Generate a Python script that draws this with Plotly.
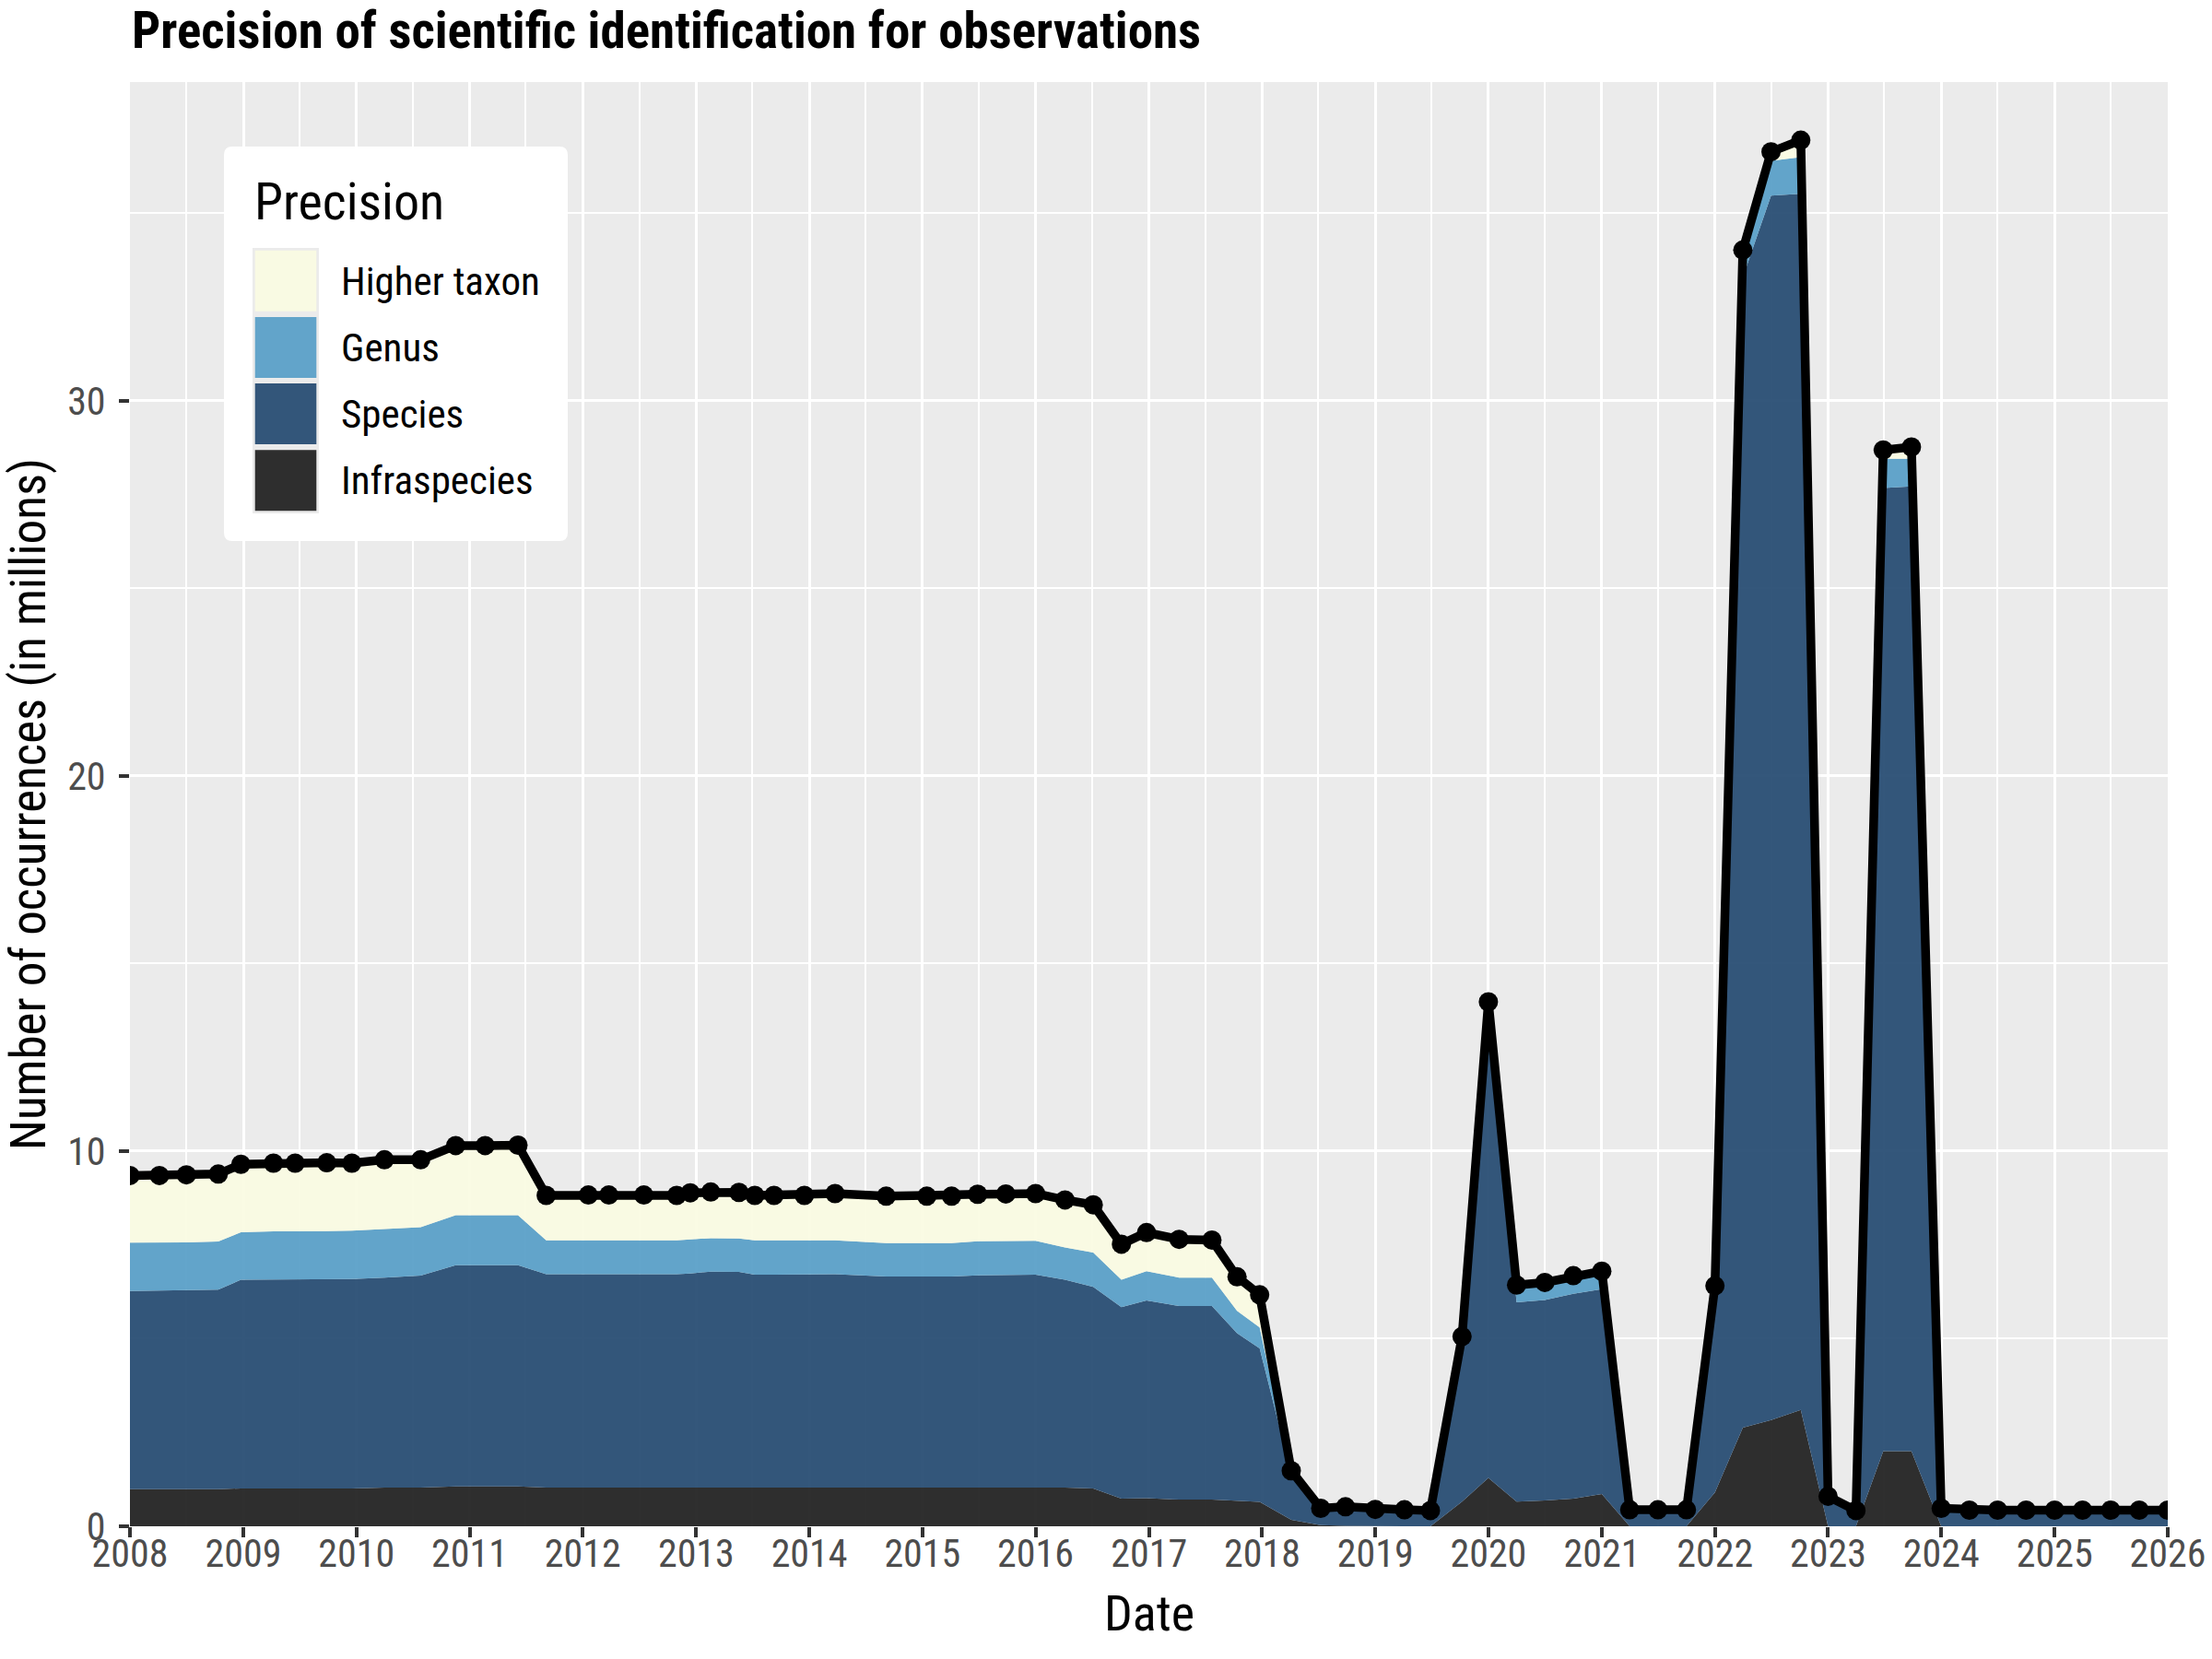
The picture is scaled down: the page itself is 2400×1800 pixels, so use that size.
import plotly.graph_objects as go

# ---------------- data (values in millions) ----------------
dates = [
    "2008-01-01", "2008-04-05", "2008-07-01", "2008-10-12", "2008-12-24",
    "2009-04-08", "2009-06-17", "2009-09-27", "2009-12-17",
    "2010-04-01", "2010-07-27", "2010-11-17",
    "2011-02-20", "2011-06-06", "2011-09-05",
    "2012-01-19", "2012-03-25", "2012-07-16", "2012-10-30", "2012-12-13",
    "2013-02-17", "2013-05-19", "2013-07-09", "2013-09-09", "2013-12-16",
    "2014-03-25", "2014-09-06",
    "2015-01-15", "2015-04-05", "2015-06-28", "2015-09-27",
    "2016-01-01", "2016-04-05", "2016-07-05", "2016-10-04", "2016-12-24",
    "2017-04-08", "2017-07-23", "2017-10-12", "2017-12-24",
    "2018-04-05", "2018-07-09", "2018-09-27",
    "2019-01-01", "2019-04-05", "2019-06-28", "2019-10-08",
    "2020-01-01", "2020-04-01", "2020-07-01", "2020-10-01",
    "2021-01-01", "2021-04-01", "2021-07-01", "2021-10-01",
    "2022-01-01", "2022-04-01", "2022-07-01", "2022-10-05",
    "2023-01-01", "2023-04-01", "2023-06-28", "2023-09-27",
    "2024-01-01", "2024-04-01", "2024-07-01", "2024-10-01",
    "2025-01-01", "2025-04-01", "2025-07-01", "2025-10-01",
    "2026-01-01",
]

infraspecies = [
    0.99, 0.99, 0.99, 0.99, 1.01,
    1.01, 1.01, 1.01, 1.01,
    1.03, 1.03, 1.06,
    1.06, 1.06, 1.03,
    1.03, 1.03, 1.03, 1.03, 1.03,
    1.03, 1.03, 1.03, 1.03, 1.03,
    1.03, 1.03,
    1.03, 1.03, 1.03, 1.03,
    1.03, 1.03, 1.01, 0.74, 0.75,
    0.71, 0.71, 0.68, 0.65,
    0.17, 0.03, 0.01,
    0.00, 0.00, 0.00, 0.66,
    1.29, 0.66, 0.69, 0.74,
    0.86, 0.00, 0.00, 0.00,
    0.90, 2.63, 2.83, 3.10,
    0.00, 0.00, 2.00, 2.00,
    0.00, 0.00, 0.00, 0.00,
    0.00, 0.00, 0.00, 0.00,
    0.00,
]

species = [
    5.28, 5.29, 5.30, 5.32, 5.56,
    5.57, 5.57, 5.57, 5.58,
    5.60, 5.65, 5.90,
    5.90, 5.90, 5.69,
    5.69, 5.70, 5.70, 5.69, 5.71,
    5.76, 5.75, 5.68, 5.68, 5.68,
    5.69, 5.63,
    5.63, 5.63, 5.66, 5.67,
    5.68, 5.54, 5.37, 5.10, 5.27,
    5.16, 5.16, 4.47, 4.09,
    1.23, 0.41, 0.47,
    0.42, 0.41, 0.40, 4.32,
    12.51, 5.31, 5.34, 5.46,
    5.46, 0.42, 0.42, 0.42,
    5.40, 30.67, 32.64, 32.42,
    0.78, 0.40, 25.68, 25.72,
    0.46, 0.41, 0.41, 0.41,
    0.41, 0.41, 0.41, 0.41,
    0.41,
]

genus = [
    1.29, 1.28, 1.28, 1.28, 1.27,
    1.28, 1.28, 1.29, 1.29,
    1.29, 1.29, 1.33,
    1.33, 1.33, 0.90,
    0.90, 0.89, 0.89, 0.90, 0.91,
    0.89, 0.89, 0.91, 0.91, 0.91,
    0.90, 0.89,
    0.89, 0.89, 0.91, 0.91,
    0.90, 0.86, 0.92, 0.73, 0.78,
    0.76, 0.76, 0.59, 0.56,
    0.04, 0.02, 0.02,
    0.02, 0.02, 0.01, 0.05,
    0.10, 0.41, 0.42, 0.42,
    0.40, 0.01, 0.01, 0.01,
    0.08, 0.56, 0.93, 0.98,
    0.01, 0.01, 0.78, 0.74,
    0.01, 0.01, 0.01, 0.01,
    0.01, 0.01, 0.01, 0.01,
    0.01,
]

higher_taxon = [
    1.79, 1.79, 1.80, 1.80, 1.81,
    1.82, 1.82, 1.82, 1.80,
    1.85, 1.80, 1.86,
    1.86, 1.87, 1.20,
    1.21, 1.21, 1.21, 1.20, 1.24,
    1.23, 1.23, 1.20, 1.20, 1.20,
    1.25, 1.25,
    1.25, 1.25, 1.25, 1.25,
    1.26, 1.27, 1.27, 0.95, 1.03,
    1.02, 1.00, 0.91, 0.87,
    0.04, 0.02, 0.02,
    0.01, 0.01, 0.01, 0.03,
    0.08, 0.05, 0.05, 0.06,
    0.08, 0.01, 0.01, 0.01,
    0.03, 0.16, 0.24, 0.45,
    0.01, 0.01, 0.23, 0.31,
    0.01, 0.01, 0.01, 0.01,
    0.01, 0.01, 0.01, 0.01,
    0.01,
]

total = [round(a + b + c + d, 2) for a, b, c, d in zip(infraspecies, species, genus, higher_taxon)]

categories = ["Higher taxon", "Genus", "Species", "Infraspecies"]
colors = {
    "Higher taxon": "rgba(250,251,227,0.95)",
    "Genus": "rgba(91,160,200,0.95)",
    "Species": "rgba(41,78,116,0.95)",
    "Infraspecies": "rgba(36,36,36,0.95)",
}
series = {
    "Infraspecies": infraspecies,
    "Species": species,
    "Genus": genus,
    "Higher taxon": higher_taxon,
}
x_tick_years = list(range(2008, 2027))
y_ticks = [0, 10, 20, 30]

FONT = "Liberation Sans Narrow, Arial Narrow, Roboto Condensed, sans-serif"

# ---------------- figure ----------------
fig = go.Figure()
for name in ["Infraspecies", "Species", "Genus", "Higher taxon"]:
    fig.add_trace(go.Scatter(
        x=dates, y=series[name], name=name, mode="lines",
        stackgroup="one", line=dict(width=0, color=colors[name]),
        fillcolor=colors[name], showlegend=False, hoverinfo="x+y+name",
    ))

fig.add_trace(go.Scatter(
    x=dates, y=total, name="Total", mode="lines+markers",
    line=dict(color="black", width=9.5),
    marker=dict(color="black", size=21),
    showlegend=False,
))

# panel geometry in pixels (for the custom legend / labels)
W, H = 2400, 1800
L, R, T, B = 141, 48, 89, 144
pw, ph = W - L - R, H - T - B


def px(x):
    return (x - L) / pw


def py(y):
    return (H - B - y) / ph


shapes = []
# legend box with rounded corners
x0, x1, y0, y1 = 243, 616, 159, 587
r = 9
rx, ry = r / pw, r / ph
X0, X1, Y0, Y1 = px(x0), px(x1), py(y1), py(y0)
path = (f"M {X0+rx},{Y0} L {X1-rx},{Y0} Q {X1},{Y0} {X1},{Y0+ry} "
        f"L {X1},{Y1-ry} Q {X1},{Y1} {X1-rx},{Y1} L {X0+rx},{Y1} "
        f"Q {X0},{Y1} {X0},{Y1-ry} L {X0},{Y0+ry} Q {X0},{Y0} {X0+rx},{Y0} Z")
shapes.append(dict(type="path", xref="paper", yref="paper", path=path,
                   fillcolor="white", line=dict(width=0), layer="above"))
# key frame
shapes.append(dict(type="rect", xref="paper", yref="paper",
                   x0=px(274), x1=px(346), y0=py(557), y1=py(269),
                   fillcolor="#EBEBEB", line=dict(width=0), layer="above"))
key_tops = [271.7, 344.0, 416.0, 488.3]
key_h = 66.0
annotations = [dict(text="Precision", xref="paper", yref="paper",
                    x=px(274), y=py(219), xanchor="left", yanchor="middle",
                    showarrow=False, font=dict(family=FONT, size=56, color="black"))]
for cat, top in zip(categories, key_tops):
    shapes.append(dict(type="rect", xref="paper", yref="paper",
                       x0=px(276.7), x1=px(343.3), y0=py(top + key_h), y1=py(top),
                       fillcolor=colors[cat], line=dict(width=0), layer="above"))
    annotations.append(dict(text=cat, xref="paper", yref="paper",
                            x=px(368), y=py(top + key_h / 2), xanchor="left",
                            yanchor="middle", showarrow=False,
                            font=dict(family=FONT, size=43, color="black")))

# x-axis title placed as an annotation (closer to tick labels than standoff allows)
annotations.append(dict(text="Date", xref="paper", yref="paper",
                        x=0.5, y=py(1750), xanchor="center", yanchor="middle",
                        showarrow=False, font=dict(family=FONT, size=54, color="black")))

fig.update_layout(
    width=W, height=H,
    margin=dict(l=L, r=R, t=T, b=B, autoexpand=False),
    paper_bgcolor="white", plot_bgcolor="#EBEBEB",
    font=dict(family=FONT, color="black"),
    title=dict(text="<b>Precision of scientific identification for observations</b>",
               x=143 / W, xanchor="left", xref="container",
               y=1 - 33 / H, yanchor="middle", yref="container",
               pad=dict(t=0, b=0, l=0, r=0),
               font=dict(family=FONT, size=55, color="black")),
    showlegend=False,
    shapes=shapes,
    annotations=annotations,
    hovermode="closest",
)

fig.update_xaxes(
    type="date",
    range=["2008-01-01", "2026-01-01"],
    tickvals=[f"{y}-01-01" for y in x_tick_years],
    ticktext=[str(y) for y in x_tick_years],
    showgrid=True, gridcolor="white", gridwidth=3.2,
    minor=dict(dtick="M6", tick0="2008-01-01", showgrid=True,
               gridcolor="white", gridwidth=1.8, ticks=""),
    ticks="outside", ticklen=11, tickwidth=3.5, tickcolor="#333333",
    tickfont=dict(family=FONT, size=42, color="#4D4D4D"),
    ticklabelstandoff=-18,
    showline=False, zeroline=False,
    automargin=False,
)
fig.update_yaxes(
    range=[0, 38.5],
    tickvals=y_ticks,
    showgrid=True, gridcolor="white", gridwidth=3.2,
    minor=dict(dtick=5, tick0=0, showgrid=True, gridcolor="white",
               gridwidth=1.8, ticks=""),
    ticks="outside", ticklen=11, tickwidth=3.5, tickcolor="#333333",
    tickfont=dict(family=FONT, size=42, color="#4D4D4D"),
    ticklabelstandoff=6,
    showline=False, zeroline=False,
    title=dict(text="Number of occurrences (in millions)",
               font=dict(family=FONT, size=53, color="black"), standoff=14),
    automargin=False,
)

fig.write_html("out.html", config={"displayModeBar": False},
               post_script="document.body.style.margin='0';")
